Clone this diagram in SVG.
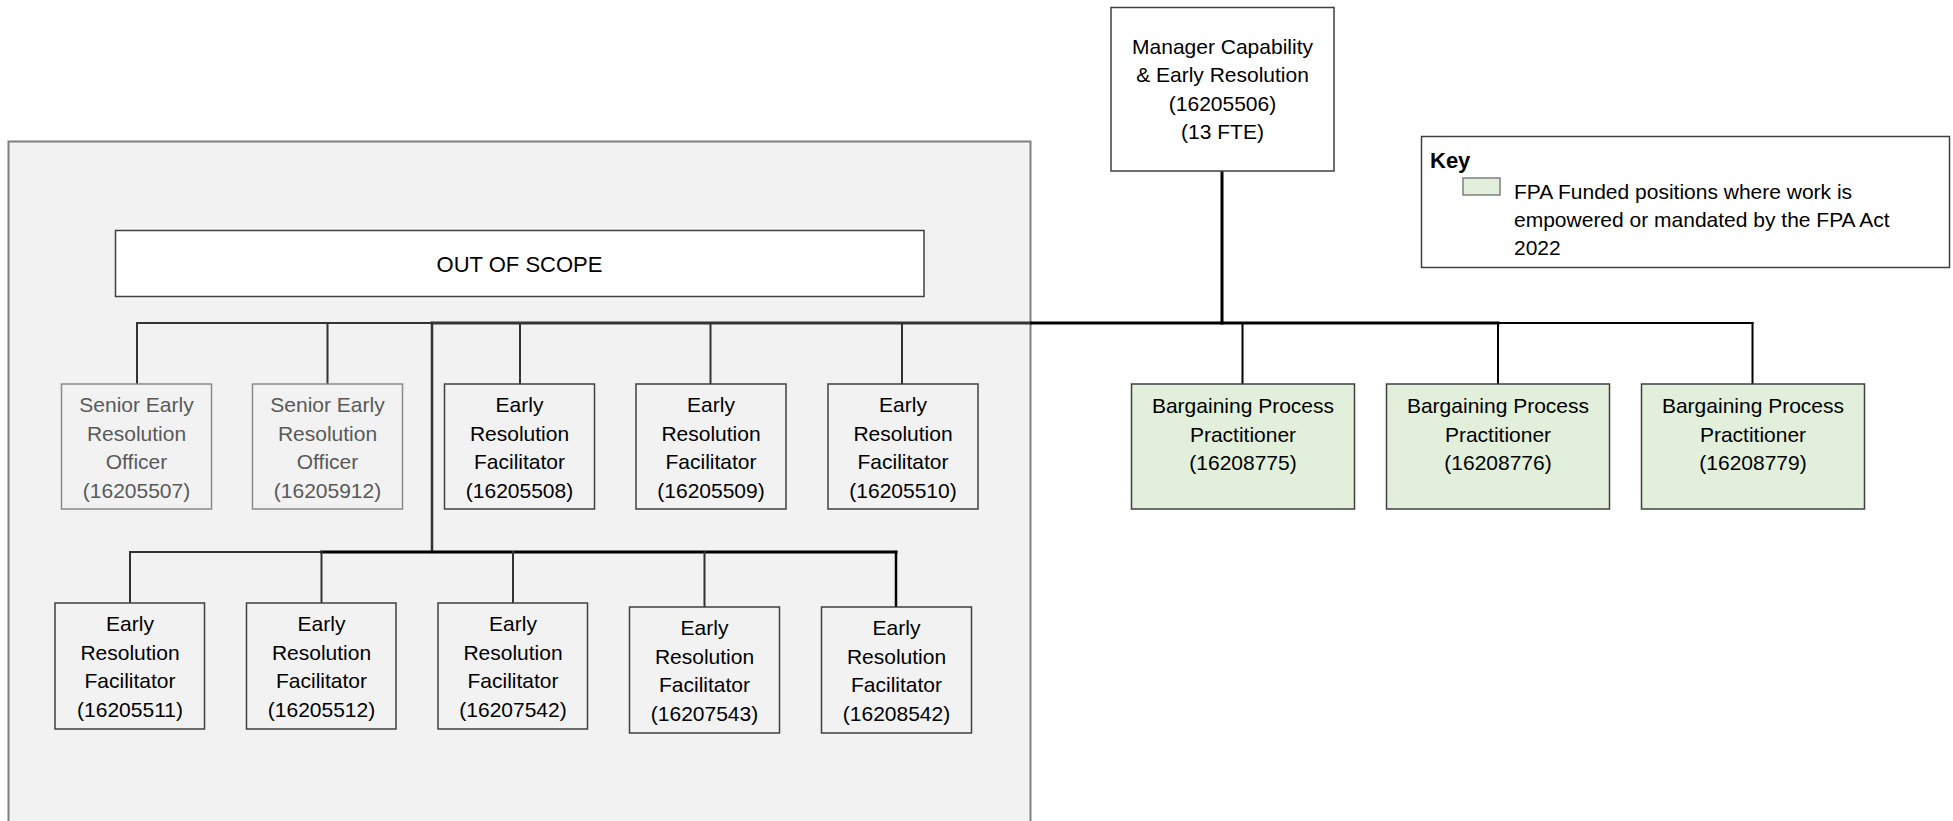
<svg xmlns="http://www.w3.org/2000/svg" width="1953" height="821" viewBox="0 0 1953 821">
<style>
text{font-family:"Liberation Sans",Arial,sans-serif;font-size:21px;fill:#000;text-anchor:middle}
.gray text{fill:#595959}
.box{fill:#F2F2F2;stroke:#404040;stroke-width:1.5}
.sbox{fill:#F2F2F2;stroke:#8a8a8a;stroke-width:1.5}
.wbox{fill:#fff;stroke:#404040;stroke-width:1.5}
.gbox{fill:#E2EFDA;stroke:#404040;stroke-width:1.5}
.c{stroke:#000;fill:none;stroke-linecap:square}
.ci{stroke:#333;fill:none;stroke-linecap:square}
</style>
<rect width="1953" height="821" fill="#fff"/>
<g id="panel">
<rect x="8.5" y="141.5" width="1022" height="700" fill="#F2F2F2" stroke="#808080" stroke-width="2"/>
</g>
<g id="connectors">
<line class="c" x1="1222" y1="171" x2="1222" y2="323" stroke-width="3"/>
<line class="ci" x1="137" y1="323" x2="432" y2="323" stroke-width="2"/>
<line class="ci" x1="432" y1="323" x2="1030" y2="323" stroke-width="3"/>
<line class="c" x1="1032" y1="323" x2="1498" y2="323" stroke-width="3"/>
<line class="c" x1="1498" y1="323" x2="1752.5" y2="323" stroke-width="2"/>
<line class="ci" x1="137" y1="323" x2="137" y2="384" stroke-width="2"/>
<line class="ci" x1="327.5" y1="323" x2="327.5" y2="384" stroke-width="2"/>
<line class="ci" x1="520" y1="323" x2="520" y2="384" stroke-width="2"/>
<line class="ci" x1="710.5" y1="323" x2="710.5" y2="384" stroke-width="2"/>
<line class="ci" x1="902" y1="323" x2="902" y2="384" stroke-width="2"/>
<line class="c" x1="1242.5" y1="323" x2="1242.5" y2="384" stroke-width="2"/>
<line class="c" x1="1498" y1="323" x2="1498" y2="384" stroke-width="2"/>
<line class="c" x1="1752.5" y1="323" x2="1752.5" y2="384" stroke-width="2"/>
<line class="ci" x1="432" y1="323" x2="432" y2="552" stroke-width="2.5"/>
<line class="ci" x1="130" y1="552" x2="321.5" y2="552" stroke-width="2"/>
<line class="c" x1="321.5" y1="552" x2="896" y2="552" stroke-width="3"/>
<line class="ci" x1="130" y1="552" x2="130" y2="603" stroke-width="2"/>
<line class="ci" x1="321.5" y1="552" x2="321.5" y2="603" stroke-width="2"/>
<line class="ci" x1="513" y1="552" x2="513" y2="603" stroke-width="2"/>
<line class="ci" x1="704.5" y1="552" x2="704.5" y2="607" stroke-width="2"/>
<line class="c" x1="896" y1="552" x2="896" y2="607" stroke-width="2.5"/>
</g>
<g id="manager">
<rect class="wbox" x="1111" y="7.5" width="223" height="163.5"/>
<text x="1222.5" y="53.5">Manager Capability</text>
<text x="1222.5" y="82">&amp; Early Resolution</text>
<text x="1222.5" y="110.5">(16205506)</text>
<text x="1222.5" y="139">(13 FTE)</text>
</g>
<g id="key">
<rect x="1421.5" y="136.5" width="528" height="131" fill="#fff" stroke="#404040" stroke-width="1.5"/>
<text x="1430" y="168" style="font-weight:bold;font-size:22px;text-anchor:start">Key</text>
<rect x="1463" y="178" width="37" height="17" fill="#E2EFDA" stroke="#7f7f7f" stroke-width="1.5"/>
<text x="1514" y="199" style="text-anchor:start">FPA Funded positions where work is</text>
<text x="1514" y="227" style="text-anchor:start">empowered or mandated by the FPA Act</text>
<text x="1514" y="255" style="text-anchor:start">2022</text>
</g>
<g id="out-of-scope">
<rect class="wbox" x="115.5" y="230.5" width="808.5" height="66"/>
<text x="519.5" y="272" style="font-size:22px">OUT OF SCOPE</text>
</g>
<g id="n16205507" class="gray">
<rect class="sbox" x="61.5" y="384" width="150" height="125"/>
<text x="136.5" y="412">Senior Early</text>
<text x="136.5" y="440.5">Resolution</text>
<text x="136.5" y="469">Officer</text>
<text x="136.5" y="497.5">(16205507)</text>
</g>
<g id="n16205912" class="gray">
<rect class="sbox" x="252.5" y="384" width="150" height="125"/>
<text x="327.5" y="412">Senior Early</text>
<text x="327.5" y="440.5">Resolution</text>
<text x="327.5" y="469">Officer</text>
<text x="327.5" y="497.5">(16205912)</text>
</g>
<g id="n16205508">
<rect class="box" x="444.5" y="384" width="150" height="125"/>
<text x="519.5" y="412">Early</text>
<text x="519.5" y="440.5">Resolution</text>
<text x="519.5" y="469">Facilitator</text>
<text x="519.5" y="497.5">(16205508)</text>
</g>
<g id="n16205509">
<rect class="box" x="636" y="384" width="150" height="125"/>
<text x="711" y="412">Early</text>
<text x="711" y="440.5">Resolution</text>
<text x="711" y="469">Facilitator</text>
<text x="711" y="497.5">(16205509)</text>
</g>
<g id="n16205510">
<rect class="box" x="828" y="384" width="150" height="125"/>
<text x="903" y="412">Early</text>
<text x="903" y="440.5">Resolution</text>
<text x="903" y="469">Facilitator</text>
<text x="903" y="497.5">(16205510)</text>
</g>
<g id="n16205511">
<rect class="box" x="55" y="603" width="149.5" height="126"/>
<text x="130" y="631">Early</text>
<text x="130" y="659.5">Resolution</text>
<text x="130" y="688">Facilitator</text>
<text x="130" y="716.5">(16205511)</text>
</g>
<g id="n16205512">
<rect class="box" x="246.5" y="603" width="149.5" height="126"/>
<text x="321.5" y="631">Early</text>
<text x="321.5" y="659.5">Resolution</text>
<text x="321.5" y="688">Facilitator</text>
<text x="321.5" y="716.5">(16205512)</text>
</g>
<g id="n16207542">
<rect class="box" x="438" y="603" width="149.5" height="126"/>
<text x="513" y="631">Early</text>
<text x="513" y="659.5">Resolution</text>
<text x="513" y="688">Facilitator</text>
<text x="513" y="716.5">(16207542)</text>
</g>
<g id="n16207543">
<rect class="box" x="629.5" y="607" width="150" height="126"/>
<text x="704.5" y="635">Early</text>
<text x="704.5" y="663.5">Resolution</text>
<text x="704.5" y="692">Facilitator</text>
<text x="704.5" y="720.5">(16207543)</text>
</g>
<g id="n16208542">
<rect class="box" x="821.5" y="607" width="150" height="126"/>
<text x="896.5" y="635">Early</text>
<text x="896.5" y="663.5">Resolution</text>
<text x="896.5" y="692">Facilitator</text>
<text x="896.5" y="720.5">(16208542)</text>
</g>
<g id="n16208775">
<rect class="gbox" x="1131.5" y="384" width="223" height="125"/>
<text x="1243" y="413">Bargaining Process</text>
<text x="1243" y="441.5">Practitioner</text>
<text x="1243" y="470">(16208775)</text>
</g>
<g id="n16208776">
<rect class="gbox" x="1386.5" y="384" width="223" height="125"/>
<text x="1498" y="413">Bargaining Process</text>
<text x="1498" y="441.5">Practitioner</text>
<text x="1498" y="470">(16208776)</text>
</g>
<g id="n16208779">
<rect class="gbox" x="1641.5" y="384" width="223" height="125"/>
<text x="1753" y="413">Bargaining Process</text>
<text x="1753" y="441.5">Practitioner</text>
<text x="1753" y="470">(16208779)</text>
</g>
</svg>
